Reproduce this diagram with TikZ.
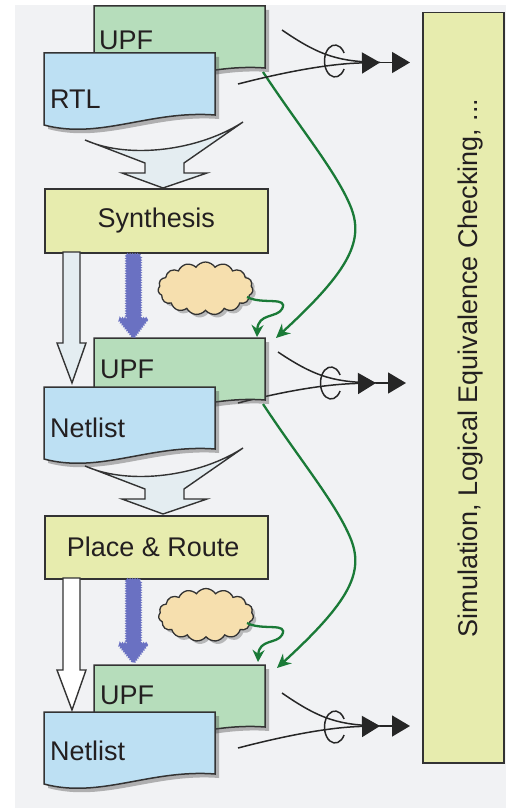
\documentclass[tikz,border=0pt]{standalone}
\usepackage{fontspec}
\setmainfont{Liberation Sans}
\usetikzlibrary{arrows.meta,shapes.symbols,shadows,decorations.pathmorphing,calc}

\definecolor{bgc}{HTML}{F1F2F4}
\definecolor{upfc}{HTML}{B6DDBB}
\definecolor{rtlc}{HTML}{BDE0F3}
\definecolor{stepc}{HTML}{E7ECAE}
\definecolor{cloudc}{HTML}{F6DFAE}
\definecolor{func}{HTML}{E4EDF1}
\definecolor{bluec}{HTML}{6A71C2}
\definecolor{greenc}{HTML}{1A7A37}
\definecolor{edgec}{HTML}{333333}
\definecolor{inkc}{HTML}{231F20}

\tikzset{
  edge/.style={draw=edgec, line width=1.5pt},
  sheet/.style={edge, drop shadow={shadow xshift=4pt, shadow yshift=-4pt, opacity=0.4, fill=black!70}},
  stepbox/.style={edge, fill=stepc},
  lbl/.style={font=\fontsize{27}{30}\selectfont, text=inkc, inner sep=0pt},
  wire/.style={draw=black!85, line width=1.5pt},
  bighead/.style={-{Triangle[length=18pt,width=21pt]}},
  greenlink/.style={draw=greenc, line width=2.3pt, -{Stealth[length=14pt,width=13pt]}},
  greensmall/.style={draw=greenc, line width=2.3pt, -{Stealth[length=12pt,width=12pt]}},
  hollow/.style={edge, line width=1.4pt},
  bluearrow/.style={fill=bluec, draw=bluec, line width=1.4pt, decorate,
    decoration={zigzag, segment length=2.5pt, amplitude=1pt}},
  puff/.style={cloud, cloud puffs=15, cloud puff arc=115, aspect=1.8,
    minimum width=95pt, minimum height=53pt, inner sep=0pt, draw=edgec,
    line width=1.3pt, fill=cloudc,
    drop shadow={shadow xshift=3pt, shadow yshift=-3pt, opacity=0.35, fill=black!70}},
}

% a sheet with a wavy lower edge; #1,#2 = top left corner, #3 = fill colour
\newcommand\docsheet[3]{%
  \begin{scope}[shift={(#1,#2)}]
    \path[sheet, fill=#3] (0,0) -- (171,0) -- (171,62)
      .. controls (106,57) and (56,87) .. (0,72) -- cycle;
  \end{scope}}

% broad funnel-shaped arrow between a sheet pair and a step box
\newcommand\funnel[1]{%
  \begin{scope}[shift={(0,#1)}]
    \path[edge, line width=1.4pt, fill=func] (85,140)
      .. controls (130,160) and (200,150) .. (243,122)
      -- (184,163) -- (184,173) -- (207,173) -- (163,188)
      -- (122,173) -- (145,173) -- (145,163) -- cycle;
  \end{scope}}

% pair of wires merging through a ring into one arrow:
% #1 upper start, #2 lower start, #3 merge point, #4 end, #5 ring centre
\newcommand\bundle[5]{%
  \draw[wire] (#1) .. controls ($(#1)!0.4!(#3)+(0,14)$) and ($(#3)+(-40,-1)$) .. (#3);
  \draw[wire, bighead] (#2) .. controls ($(#2)!0.4!(#3)+(0,-6)$) and ($(#3)+(-45,1)$) .. (#3);
  \draw[wire, bighead] (#3) -- (#4);
  \draw[wire] (#5) ++(30:10.5 and 16) arc[start angle=30, end angle=330, x radius=10.5, y radius=16];
}

\begin{document}
\begin{tikzpicture}[x=1pt, y=-1pt]
  \useasboundingbox (0,0) rectangle (506,808);
  \fill[bgc] (15,5) rectangle (506,808);

  % long green links from one UPF to the next
  \coordinate (gA0) at (263,72);
  \coordinate (gA1) at (276,338);
  \coordinate (gB0) at (263,404);
  \coordinate (gB1) at (277,668);
  \draw[greenlink] (gA0) .. controls (300,128) and (335,170) .. (350,205)
    .. controls (365,240) and (350,270) .. (gA1);
  \draw[greenlink] (gB0) .. controls (300,460) and (335,502) .. (350,537)
    .. controls (365,572) and (350,601) .. (gB1);

  % wires towards the verification box
  \coordinate (wA1) at (282,30);   \coordinate (wA2) at (238,84);
  \coordinate (mA) at (380,62.5);  \coordinate (eA) at (410,62.5);
  \coordinate (rA) at (335,61);
  \coordinate (wB1) at (278,352);  \coordinate (wB2) at (238,403);
  \coordinate (mB) at (376,383);   \coordinate (eB) at (406,383);
  \coordinate (rB) at (331,383);
  \coordinate (wC1) at (282,693);  \coordinate (wC2) at (238,748);
  \coordinate (mC) at (380,726);   \coordinate (eC) at (410,726);
  \coordinate (rC) at (335,727);
  \bundle{wA1}{wA2}{mA}{eA}{rA}
  \bundle{wB1}{wB2}{mB}{eB}{rB}
  \bundle{wC1}{wC2}{mC}{eC}{rC}

  % design sheets
  \docsheet{94}{6}{upfc}
  \docsheet{44}{53}{rtlc}
  \docsheet{94}{338}{upfc}
  \docsheet{44}{387}{rtlc}
  \docsheet{94}{665}{upfc}
  \docsheet{44}{712}{rtlc}
  \node[lbl, anchor=base west] (upfA) at (99,50) {UPF};
  \node[lbl, anchor=base west] (rtl) at (50,108) {RTL};
  \node[lbl, anchor=base west] (upfB) at (100,378) {UPF};
  \node[lbl, anchor=base west] (netA) at (50,437) {Netlist};
  \node[lbl, anchor=base west] (upfC) at (100,704) {UPF};
  \node[lbl, anchor=base west] (netB) at (50,760) {Netlist};

  % funnels into the tool steps
  \funnel{0}
  \funnel{326}

  % tool steps
  \node[stepbox, minimum width=223pt, minimum height=64pt, anchor=north west] (syn) at (44,188) {};
  \node[lbl] (synt) at (syn.center) {Synthesis};
  \node[stepbox, minimum width=223pt, minimum height=63pt, anchor=north west] (pnr) at (44,515) {};
  \node[lbl] (pnrt) at ([xshift=-3pt]pnr.center) {Place \& Route};

  % hollow arrows from each step to its netlist
  \path[hollow, fill=func] (63,252) -- (80,252) -- (80,343) -- (86,343)
    -- (72,383) -- (57,343) -- (63,343) -- cycle;
  \path[hollow, fill=white] (63,578) -- (80,578) -- (80,670) -- (86,670)
    -- (72,710) -- (57,670) -- (63,670) -- cycle;

  % stippled arrows from each step to its UPF
  \path[bluearrow] (127,255) -- (140,255) -- (140,319) -- (147,319)
    -- (133.5,337) -- (119,319) -- (127,319) -- cycle;
  \path[bluearrow] (127,580) -- (140,580) -- (140,644) -- (147,644)
    -- (133.5,662) -- (119,644) -- (127,644) -- cycle;

  % clouds and their links to the UPF
  \node[puff] (cloudA) at (205.5,288.5) {};
  \node[puff] (cloudB) at (206,615) {};
  \coordinate (cA0) at (247,297);  \coordinate (cA1) at (257,337);
  \coordinate (cB0) at (247,623);  \coordinate (cB1) at (258,662);
  \draw[greensmall] (cA0) .. controls (262,305) and (289,296) .. (282,309)
    .. controls (277,318) and (258,313) .. (cA1);
  \draw[greensmall] (cB0) .. controls (262,631) and (289,622) .. (282,635)
    .. controls (277,644) and (259,639) .. (cB1);

  % verification box
  \node[stepbox, minimum width=81pt, minimum height=750pt, anchor=north west] (check) at (422,12) {};
  \node[lbl, rotate=90] (checkt) at (471,368) {Simulation, Logical Equivalence Checking, ...};
\end{tikzpicture}
\end{document}
